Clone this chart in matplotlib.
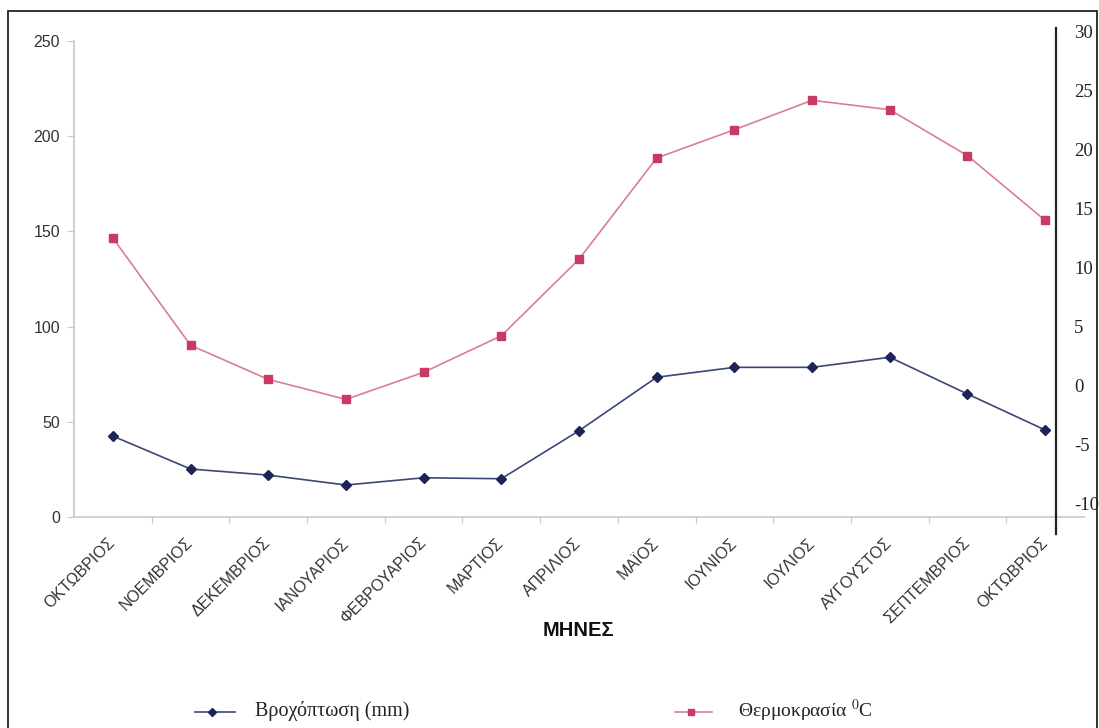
"""Monthly rainfall and temperature chart (two independent y scales)."""

import matplotlib.pyplot as plt
import matplotlib.transforms as mtransforms
from matplotlib.patches import Rectangle

plt.rcParams["axes.unicode_minus"] = False

months = [
    "ΟΚΤΩΒΡΙΟΣ", "ΝΟΕΜΒΡΙΟΣ", "ΔΕΚΕΜΒΡΙΟΣ", "ΙΑΝΟΥΑΡΙΟΣ", "ΦΕΒΡΟΥΑΡΙΟΣ",
    "ΜΑΡΤΙΟΣ", "ΑΠΡΙΛΙΟΣ", "ΜΑΪΟΣ", "ΙΟΥΝΙΟΣ", "ΙΟΥΛΙΟΣ", "ΑΥΓΟΥΣΤΟΣ",
    "ΣΕΠΤΕΜΒΡΙΟΣ", "ΟΚΤΩΒΡΙΟΣ",
]
rain_mm = [42.5, 25.2, 22.0, 16.8, 20.6, 20.1, 45.3, 73.4, 78.6, 78.6, 83.9, 64.6, 45.7]
temp_c = [12.5, 3.4, 0.5, -1.2, 1.1, 4.2, 10.7, 19.3, 21.7, 24.2, 23.4, 19.5, 14.0]

rain_ticks = [0, 50, 100, 150, 200, 250]
temp_ticks = [-10, -5, 0, 5, 10, 15, 20, 25, 30]

W, H = 1099, 728
fig = plt.figure(figsize=(W / 100, H / 100), dpi=100)


def px_rect(left, top, right, bottom):
    return [left / W, 1 - bottom / H, (right - left) / W, (bottom - top) / H]


# outer frame of the scanned page
fig.patches.append(Rectangle((8 / W, -0.05), (1097 - 8) / W, 1.05 - 11 / H,
                             transform=fig.transFigure, fill=False,
                             edgecolor="#222222", linewidth=1.3))

x = list(range(len(months)))
axis_grey = "#c8c8c8"
label_col = "#333333"

# rainfall axes (left scale)
ax = fig.add_axes(px_rect(74, 41, 1084, 517))
ax.plot(x, rain_mm, color="#3b4777", linewidth=1.2, marker="D",
        markersize=5, markerfacecolor="#1c2556", markeredgecolor="#1c2556")
ax.set_xlim(-0.5, len(months) - 0.5)
ax.set_ylim(0, 250)
ax.set_yticks(rain_ticks)
ax.set_xticks([i + 0.5 for i in x[:-1]], minor=False)
ax.set_xticklabels([])
ax.set_xticks(x, minor=True)
ax.set_xticklabels(months, minor=True, rotation=45, ha="right", va="center",
                   rotation_mode="anchor", fontsize=11.5, color=label_col,
                   family="Liberation Sans")
shift = mtransforms.ScaledTranslation(-5 / 100, 0, fig.dpi_scale_trans)
for t in ax.get_xticklabels(minor=True):
    t.set_transform(t.get_transform() + shift)
ax.tick_params(axis="x", which="minor", length=0, pad=17)
ax.tick_params(axis="x", which="major", length=4, color=axis_grey)
ax.tick_params(axis="y", length=5, color=axis_grey, pad=5, labelsize=11.5,
               labelcolor=label_col, labelfontfamily="Liberation Sans")
for side in ("top", "right"):
    ax.spines[side].set_visible(False)
for side in ("left", "bottom"):
    ax.spines[side].set_color(axis_grey)
    ax.spines[side].set_linewidth(1.2)

# temperature axes (right scale, placed independently as in the original)
ax2 = fig.add_axes(px_rect(74, 32, 1084, 503))
ax2.patch.set_visible(False)
ax2.plot(x, temp_c, color="#d97f93", linewidth=1.2, marker="s",
         markersize=5.5, markerfacecolor="#c93a62", markeredgecolor="#c93a62")
ax2.set_xlim(-0.5, len(months) - 0.5)
ax2.set_ylim(-10, 30)
ax2.set_xticks([])
ax2.yaxis.tick_right()
ax2.set_yticks(temp_ticks)
ax2.tick_params(axis="y", length=0, pad=13, labelsize=13.5,
                labelcolor="#222222", labelfontfamily="Liberation Serif")
for side in ("top", "left", "bottom"):
    ax2.spines[side].set_visible(False)
ax2.spines["right"].set_position(("axes", (1056 - 74) / (1084 - 74)))
ax2.spines["right"].set_bounds(-12.6, 30.3)
ax2.spines["right"].set_color("#222222")
ax2.spines["right"].set_linewidth(1.6)

# axis title
fig.text(578 / W, 1 - 631 / H, "ΜΗΝΕΣ", ha="center", va="center",
         fontsize=14.5, fontweight="bold", family="Liberation Sans",
         color="#111111")

# legend drawn by hand at the bottom
leg = fig.add_axes([0, 0, 1, 1])
leg.set_xlim(0, W)
leg.set_ylim(H, 0)
leg.axis("off")
leg.plot([195, 235], [712, 712], color="#3b4777", linewidth=1.2)
leg.plot([212], [712], marker="D", markersize=4.5, color="#1c2556")
leg.text(255, 711, "Βροχόπτωση (mm)", va="center", fontsize=14.5,
         family="Liberation Serif", color="#222222")
leg.plot([675, 712], [712, 712], color="#d97f93", linewidth=1.2)
leg.plot([691], [712], marker="s", markersize=5, color="#c93a62")
leg.text(738, 711, r"Θερμοκρασία $^{0}$C", va="center", fontsize=14,
         family="Liberation Serif", color="#222222", math_fontfamily="stix")

fig.savefig("out.png", dpi=100)
plt.close(fig)
